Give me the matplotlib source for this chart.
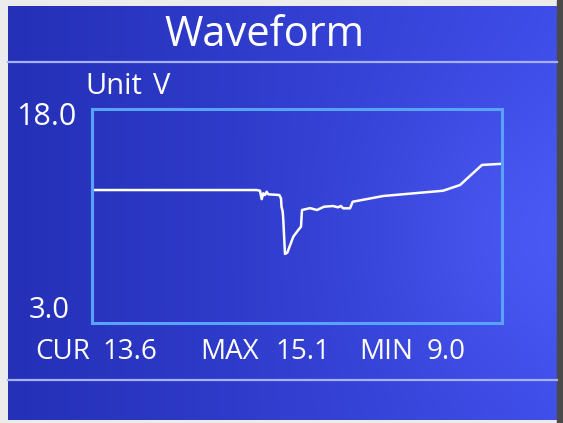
import matplotlib.pyplot as plt
import numpy as np

# waveform readings (sample position, volts)
t = [0, 164.7, 168, 169.7, 171.3, 173, 174.7, 176.3, 187.3, 189, 189.5, 190.7,
     191.3, 193, 195.3, 201.3, 206.3, 209, 210, 218, 225, 232, 241, 246, 249,
     251, 258, 260.7, 291, 351, 368, 390, 408]
volts = [12.32, 12.32, 12.27, 11.68, 12.09, 11.97, 12.2, 12.02, 11.97, 11.74,
         11.15, 10.8, 10.22, 7.84, 7.93, 9.05, 9.52, 9.75, 10.92, 11.05, 10.92,
         11.15, 11.2, 11.11, 11.2, 11.04, 11.04, 11.5, 11.9, 12.27, 12.67,
         14.08, 14.15]
y_min, y_max = 3.0, 18.0
stat_names = ["CUR", "MAX", "MIN"]
stat_values = [13.6, 15.1, 9.0]

W, H = 563, 423
plt.rcParams['font.family'] = ['Open Sans', 'DejaVu Sans']
fig = plt.figure(figsize=(W / 100, H / 100), dpi=100)
fig.patch.set_facecolor('#ececec')

bg = fig.add_axes([0, 0, 1, 1])
bg.set_xlim(0, W)
bg.set_ylim(H, 0)
bg.axis('off')

# blue screen gradient
px0, px1, py0, py1 = 8, 557, 6, 420
gx, gy = np.meshgrid(np.linspace(0, 1, 300), np.linspace(0, 1, 220))
left = np.array([36, 48, 182]) / 255
right = np.array([62, 76, 232]) / 255
img = left + (right - left) * gx[..., None]
glow = np.exp(-((gx - 0.95) ** 2 / 0.08 + (gy - 0.55) ** 2 / 0.12))
img = np.clip(img + 0.05 * glow[..., None], 0, 1)
bg.imshow(img, extent=(px0, px1, py1, py0), aspect='auto', zorder=1)
bg.add_patch(plt.Rectangle((557, 0), 6, H, color='#4a4a4a', zorder=2))

# separator lines
for yy in (62, 380):
    bg.plot([px0, px1], [yy, yy], color='#a4b2ff', lw=1.6, zorder=3)

bg.text(264, 35, "Waveform", color='white', fontsize=30, ha='center', va='center', zorder=4)
bg.text(85, 87, "Unit", color='white', fontsize=21, ha='left', va='center', zorder=4)
bg.text(153, 87, "V", color='white', fontsize=21, ha='left', va='center', zorder=4)
bg.text(16, 117, f"{y_max:.1f}", color='white', fontsize=22, ha='left', va='center', zorder=4)
bg.text(29, 310, f"{y_min:.1f}", color='white', fontsize=21, ha='left', va='center', zorder=4)

name_x = [35, 200, 359]
val_x = [102, 275, 427]
for n, v, nx, vx in zip(stat_names, stat_values, name_x, val_x):
    bg.text(nx, 352, n, color='white', fontsize=20, ha='left', va='center', zorder=4)
    bg.text(vx, 352, f"{v:.1f}", color='white', fontsize=20, ha='left', va='center', zorder=4)

# waveform box
ax = fig.add_axes([92 / W, 1 - 323 / H, 410 / W, 214 / H])
ax.patch.set_alpha(0)
ax.plot(t, volts, color='white', lw=1.8, solid_joinstyle='round')
ax.set_xlim(0, 410)
ax.set_ylim(y_min, y_max)
ax.set_xticks([])
ax.set_yticks([])
for s in ax.spines.values():
    s.set_color('#5aa2ff')
    s.set_linewidth(2.2)

fig.savefig('out.png', dpi=100)
